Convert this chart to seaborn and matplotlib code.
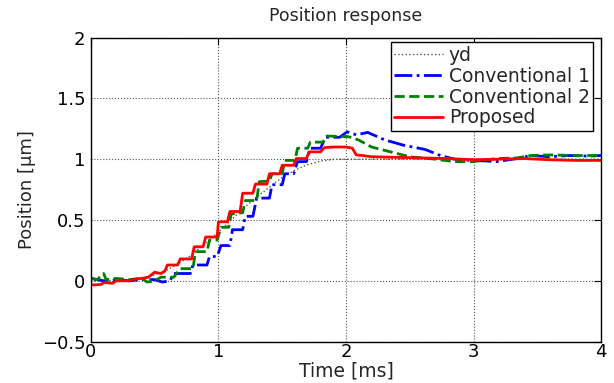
import matplotlib
matplotlib.use("Agg")
import matplotlib.pyplot as plt
import seaborn as sns
import pandas as pd

# ---- data ----
t_yd = [0.0, 0.2, 0.3, 0.4, 0.5, 0.6, 0.7, 0.8, 0.9, 1.0, 1.1, 1.2, 1.3, 1.4,
        1.5, 1.6, 1.7, 1.8, 1.9, 2.0, 3.0, 4.0]
y_yd = [0.0, 0.0, 0.005, 0.02, 0.05, 0.09, 0.15, 0.22, 0.31, 0.40, 0.50, 0.60,
        0.69, 0.77, 0.85, 0.91, 0.955, 0.985, 0.998, 1.0, 1.0, 1.0]

t_c1 = [0.0, 0.1, 0.2, 0.3, 0.4, 0.5, 0.56, 0.62, 0.65, 0.78, 0.8, 0.91, 0.93,
        0.99, 1.02, 1.09, 1.11, 1.19, 1.21, 1.27, 1.3, 1.4, 1.42, 1.5, 1.52,
        1.59, 1.62, 1.69, 1.72, 1.8, 1.84, 1.95, 2.01, 2.08, 2.17, 2.3, 2.45,
        2.62, 2.74, 2.85, 2.97, 3.1, 3.18, 3.34, 3.45, 3.6, 3.75, 3.9, 4.0]
y_c1 = [0.02, 0.0, 0.01, 0.0, 0.01, 0.01, -0.01, 0.0, 0.06, 0.06, 0.13, 0.13,
        0.2, 0.2, 0.29, 0.29, 0.42, 0.42, 0.53, 0.53, 0.68, 0.68, 0.79, 0.79,
        0.88, 0.88, 0.98, 0.98, 1.09, 1.09, 1.18, 1.18, 1.225, 1.2, 1.22, 1.16,
        1.115, 1.08, 1.03, 1.0, 0.99, 0.985, 0.98, 1.005, 1.03, 1.02, 1.03,
        1.025, 1.03]

t_c2 = [0.0, 0.05, 0.1, 0.12, 0.2, 0.3, 0.4, 0.44, 0.5, 0.55, 0.65, 0.7, 0.8,
        0.82, 0.91, 0.93, 0.99, 1.02, 1.08, 1.1, 1.19, 1.21, 1.3, 1.32, 1.4,
        1.42, 1.5, 1.52, 1.6, 1.62, 1.7, 1.72, 1.82, 1.85, 2.02, 2.1, 2.2,
        2.35, 2.5, 2.7, 2.85, 3.0, 3.18, 3.34, 3.45, 3.6, 3.8, 4.0]
y_c2 = [0.02, 0.01, 0.06, 0.01, 0.02, 0.01, 0.02, -0.01, 0.0, 0.03, 0.03, 0.1,
        0.1, 0.24, 0.24, 0.335, 0.335, 0.44, 0.44, 0.55, 0.56, 0.66, 0.66,
        0.815, 0.82, 0.88, 0.88, 0.99, 0.99, 1.09, 1.09, 1.14, 1.14, 1.19,
        1.185, 1.157, 1.10, 1.06, 1.02, 1.0, 0.98, 0.98, 1.005, 1.01, 1.03,
        1.035, 1.03, 1.03]

t_pr = [0.0, 0.08, 0.1, 0.17, 0.2, 0.3, 0.35, 0.4, 0.45, 0.5, 0.55, 0.58, 0.6,
        0.68, 0.7, 0.79, 0.81, 0.88, 0.9, 0.99, 1.0, 1.07, 1.09, 1.17, 1.19,
        1.27, 1.29, 1.38, 1.4, 1.48, 1.5, 1.59, 1.61, 1.69, 1.71, 1.8, 1.83,
        1.9, 2.0, 2.05, 2.08, 2.13, 2.2, 2.4, 2.6, 2.8, 3.0, 3.2, 3.4, 3.6,
        3.8, 4.0]
y_pr = [-0.035, -0.03, -0.015, -0.02, 0.0, 0.0, 0.015, 0.02, 0.03, 0.07, 0.06,
        0.08, 0.13, 0.13, 0.18, 0.18, 0.28, 0.28, 0.36, 0.36, 0.485, 0.485,
        0.57, 0.57, 0.72, 0.72, 0.795, 0.795, 0.88, 0.88, 0.95, 0.95, 1.005,
        1.005, 1.06, 1.06, 1.095, 1.10, 1.10, 1.09, 1.035, 1.03, 1.02, 1.015,
        1.01, 1.005, 0.995, 1.0, 1.005, 0.995, 0.99, 0.99]

labels = ["yd", "Conventional 1", "Conventional 2", "Proposed"]
x_ticks = [0, 1, 2, 3, 4]
y_ticks = [-0.5, 0, 0.5, 1, 1.5, 2]

sns.set_theme(style="white")
plt.rcParams['font.family'] = ['DejaVu Sans']
plt.rcParams['axes.unicode_minus'] = True

fig = plt.figure(figsize=(6.14, 3.83), dpi=100)
ax = fig.add_axes([0.148, 0.108, 0.831, 0.794])

styles = [
    dict(color="#555555", linestyle=":", linewidth=1.0),
    dict(color="#0000ff", linestyle="-.", linewidth=2.0),
    dict(color="#008000", linestyle="--", linewidth=2.0),
    dict(color="#ff0000", linestyle="-", linewidth=2.0),
]
series = [(t_yd, y_yd), (t_c1, y_c1), (t_c2, y_c2), (t_pr, y_pr)]
for (tt, yy), lab, st in zip(series, labels, styles):
    df = pd.DataFrame({"t": tt, "y": yy})
    sns.lineplot(data=df, x="t", y="y", ax=ax, label=lab, estimator=None,
                 sort=False, **st)

ax.set_xlim(0, 4)
ax.set_ylim(-0.5, 2)
ax.set_xticks(x_ticks)
ax.set_yticks(y_ticks)
ax.set_xticklabels([f"{v:g}" for v in x_ticks])
ax.set_yticklabels([f"{v:g}".replace("-", "\u2212") for v in y_ticks])
ax.grid(True, linestyle=":", color="#555555", linewidth=0.8)
ax.tick_params(direction="in", length=5, width=0.8, top=True, right=True,
               labelsize=13, colors="black")
ax.tick_params(axis="x", pad=1)
ax.tick_params(axis="y", pad=4)
for s in ax.spines.values():
    s.set_visible(True)
    s.set_color("black")
    s.set_linewidth(1.0)

ax.set_xlabel("Time [ms]", fontsize=13.5, labelpad=0)
ax.set_ylabel("Position [\u00b5m]", fontsize=13, labelpad=4)
ax.set_title("Position response", fontsize=12.5, pad=12)

leg = ax.legend(loc="upper right", bbox_to_anchor=(0.985, 0.985), fontsize=13.5,
                frameon=True, fancybox=False, edgecolor="black",
                framealpha=1, borderpad=0.2, labelspacing=0.1,
                handlelength=2.6, handletextpad=0.3, borderaxespad=0.0)
leg.get_frame().set_linewidth(1.0)

fig.savefig("out.png", dpi=100)
